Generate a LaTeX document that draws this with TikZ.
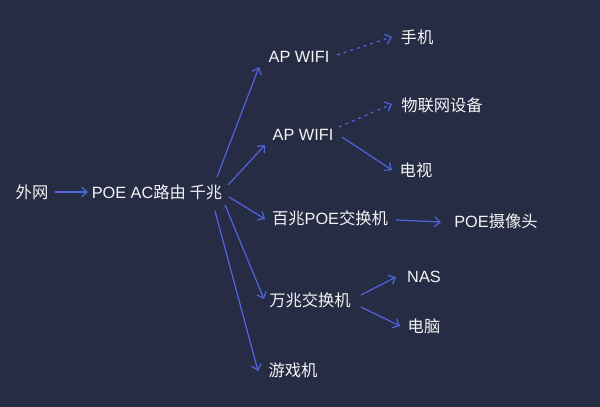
\documentclass[tikz,border=0pt]{standalone}
\usepackage{fontspec}
\setmainfont{Liberation Sans}
\newfontfamily\cjk{Noto Sans CJK SC}
\usetikzlibrary{arrows.meta}
\definecolor{bgc}{HTML}{262C43}
\definecolor{arc}{HTML}{5065DD}
\definecolor{txc}{HTML}{F4F4F4}
\begin{document}
\begin{tikzpicture}[x=1pt,y=-1pt,
  lbl/.style={text=txc,inner sep=0pt,font=\fontsize{16.3}{18}\selectfont},
  conn/.style={draw=arc,line width=1.2pt,-{Straight Barb[length=5.5pt,width=10pt,line width=1.2pt]}},
  dotc/.style={conn,dash pattern=on 3pt off 4pt}]
\fill[bgc] (0,0) rectangle (600,407);
\useasboundingbox (0,0) rectangle (600,407);
\node[lbl] (wan) at (32,192) {\cjk 外网};
\node[lbl] (router) at (157,192) {POE AC\cjk{路由 千兆}};
\node[lbl] (ap1) at (299,57) {AP WIFI};
\node[lbl] (phone) at (417,37) {\cjk 手机};
\node[lbl] (ap2) at (303,135) {AP WIFI};
\node[lbl] (iot) at (442,105) {\cjk 物联网设备};
\node[lbl] (tv) at (416,170) {\cjk 电视};
\node[lbl] (sw100) at (330,218) {{\cjk 百兆}POE{\cjk 交换机}};
\node[lbl] (cam) at (496,221) {POE{\cjk 摄像头}};
\node[lbl] (sw10g) at (310,300) {\cjk 万兆交换机};
\node[lbl] (nas) at (424,277) {NAS};
\node[lbl] (pc) at (424,326) {\cjk 电脑};
\node[lbl] (game) at (293,370) {\cjk 游戏机};

\draw[conn] ([shift={(23,0)}]wan.center) -- ([shift={(-69,0)}]router.center);
\draw[conn] ([shift={(60,-15)}]router.center) -- ([shift={(-40,10)}]ap1.center);
\draw[conn] ([shift={(71,-7)}]router.center) -- ([shift={(-38,10)}]ap2.center);
\draw[conn] ([shift={(72,5)}]router.center) -- ([shift={(-65,1)}]sw100.center);
\draw[conn] ([shift={(68,13)}]router.center) -- ([shift={(-46,-1)}]sw10g.center);
\draw[conn] ([shift={(58,19)}]router.center) -- ([shift={(-35,1)}]game.center);
\draw[dotc] ([shift={(38,-2)}]ap1.center) -- ([shift={(-25,0)}]phone.center);
\draw[dotc] ([shift={(36,-8)}]ap2.center) -- ([shift={(-50,-1)}]iot.center);
\draw[conn] ([shift={(39,2)}]ap2.center) -- ([shift={(-24,0)}]tv.center);
\draw[conn] ([shift={(66,2)}]sw100.center) -- ([shift={(-55,1)}]cam.center);
\draw[conn] ([shift={(51,-5)}]sw10g.center) -- ([shift={(-28,0)}]nas.center);
\draw[conn] ([shift={(51,7)}]sw10g.center) -- ([shift={(-24,0)}]pc.center);
\end{tikzpicture}
\end{document}
